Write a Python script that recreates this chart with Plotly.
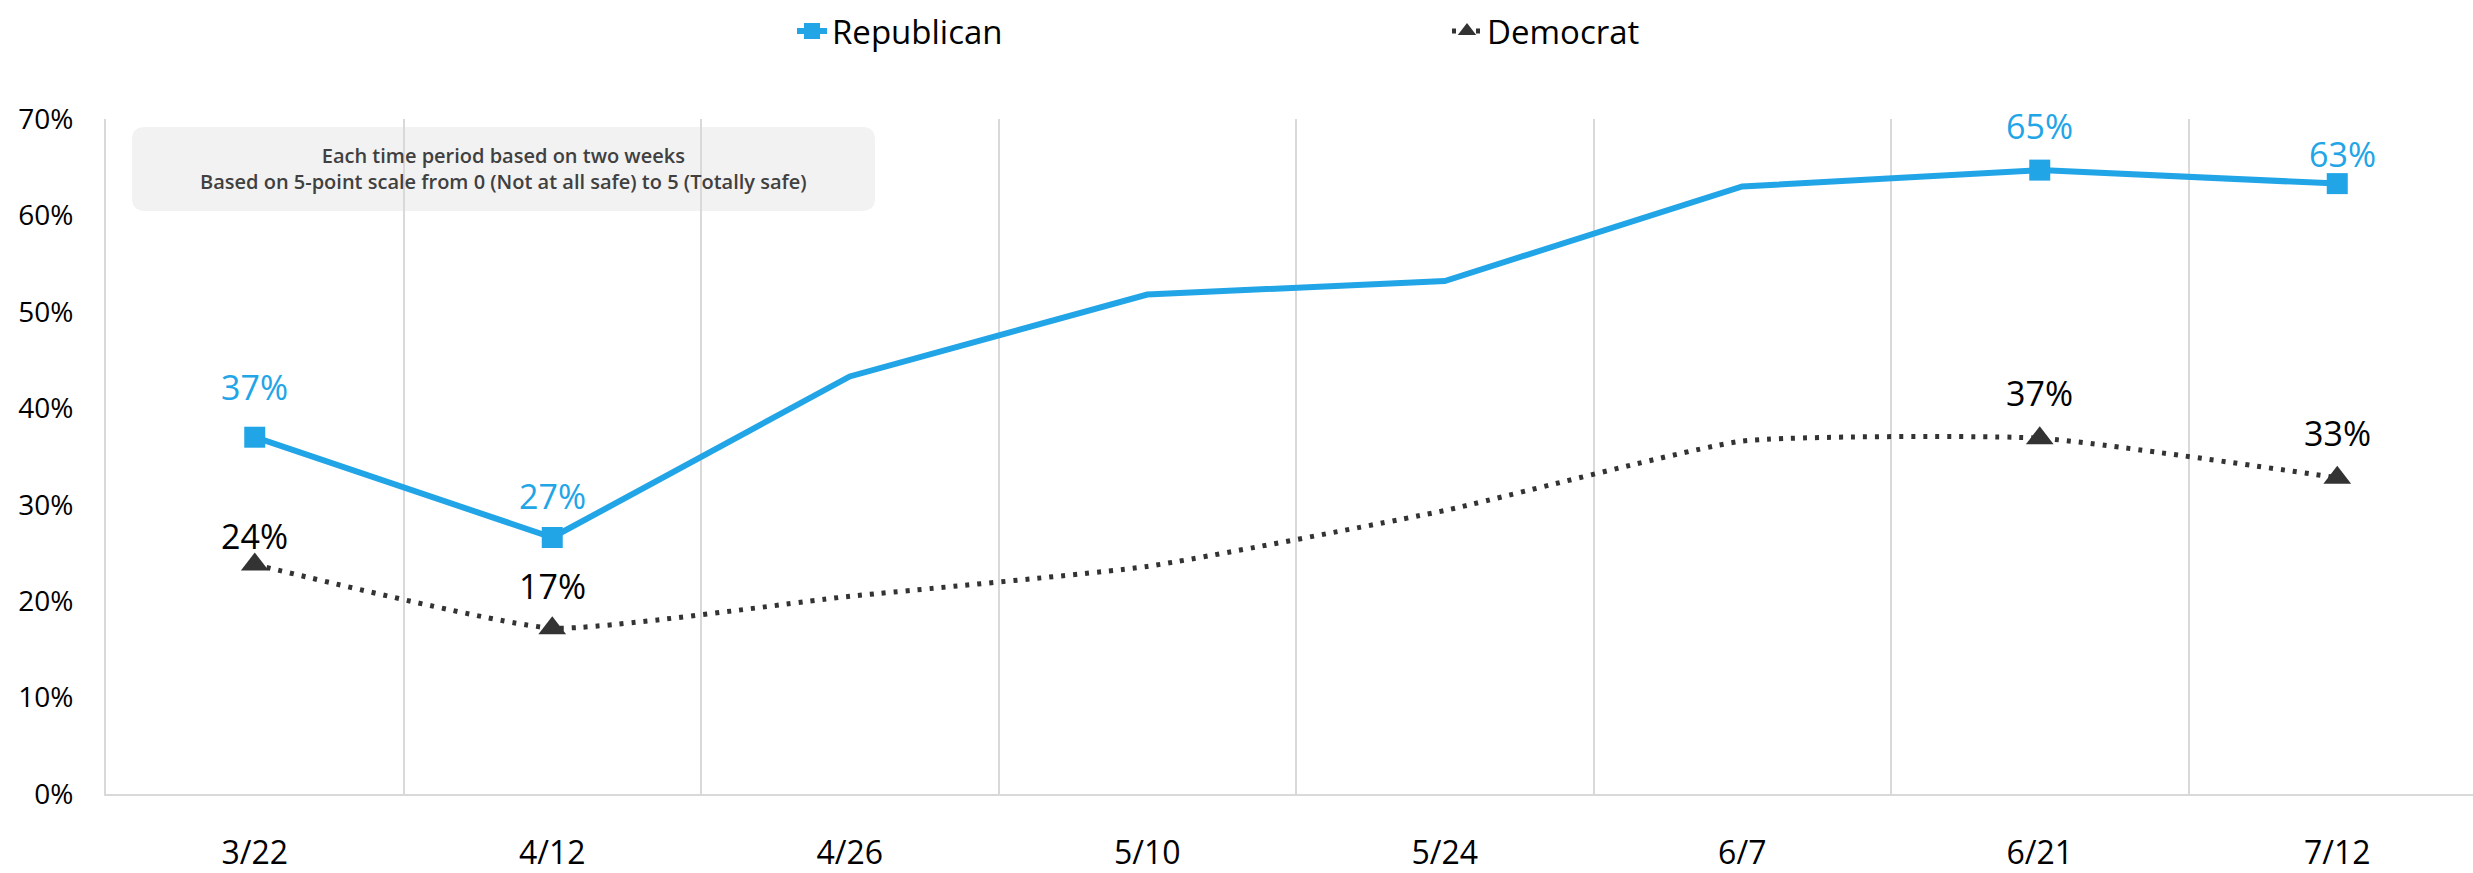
import plotly.graph_objects as go

# ---- data ----
periods = ["3/22", "4/12", "4/26", "5/10", "5/24", "6/7", "6/21", "7/12"]
republican = [37.0, 26.6, 43.3, 51.8, 53.2, 63.0, 64.7, 63.3]
democrat = [23.8, 17.2, 20.5, 23.6, 29.4, 36.6, 36.9, 32.8]
labelled = [0, 1, 6, 7]
note_lines = ["Each time period based on two weeks",
              "Based on 5-point scale from 0 (Not at all safe) to 5 (Totally safe)"]

# ---- style ----
W, H = 2473, 873
ML, MR, MT, MB = 106, 0, 119, 71
BLUE = "#21A5E7"
DARK = "#333333"
CLEAR = "rgba(0,0,0,0)"
FONT = "Open Sans"
rep_shift = [50, 42, 44, 30]
dem_shift = [29, 42, 45, 45]

plot_w = W - ML - MR
plot_h = H - MT - MB


def px_x(p):
    return (p - ML) / plot_w


def px_y(p):
    return (H - MB - p) / plot_h


rep_colors = [BLUE if i in labelled else CLEAR for i in range(len(periods))]
dem_colors = [DARK if i in labelled else CLEAR for i in range(len(periods))]

fig = go.Figure()
fig.add_trace(go.Scatter(
    x=periods, y=[v / 100 for v in republican], name="Republican",
    mode="lines+markers",
    line=dict(color=BLUE, width=6),
    marker=dict(symbol="square", size=21, color=rep_colors, opacity=1,
                line=dict(width=0)),
))
fig.add_trace(go.Scatter(
    x=periods, y=[v / 100 for v in democrat], name="Democrat",
    mode="lines+markers",
    line=dict(color=DARK, width=5, dash="4px,8px", shape="spline", smoothing=0.45),
    marker=dict(symbol="triangle-up", size=24, color=dem_colors, opacity=1,
                line=dict(width=0)),
))

annotations = []
for k, i in enumerate(labelled):
    annotations.append(dict(
        x=periods[i], y=republican[i] / 100, xref="x", yref="y",
        text=f"{round(republican[i])}%", showarrow=False,
        yshift=rep_shift[k], xshift=5 if k == 3 else 0,
        font=dict(family=FONT, size=34, color=BLUE)))
    annotations.append(dict(
        x=periods[i], y=democrat[i] / 100, xref="x", yref="y",
        text=f"{round(democrat[i])}%", showarrow=False,
        yshift=dem_shift[k],
        font=dict(family=FONT, size=34, color="#000000")))

# note box
bx0, bx1, by0, by1, r = 132, 875, 127, 212, 13
x0, x1 = px_x(bx0), px_x(bx1)
y0, y1 = px_y(by1), px_y(by0)
rx, ry = r / plot_w, r / plot_h
path = (f"M {x0+rx},{y0} L {x1-rx},{y0} Q {x1},{y0} {x1},{y0+ry} "
        f"L {x1},{y1-ry} Q {x1},{y1} {x1-rx},{y1} "
        f"L {x0+rx},{y1} Q {x0},{y1} {x0},{y1-ry} "
        f"L {x0},{y0+ry} Q {x0},{y0} {x0+rx},{y0} Z")
fig.add_shape(type="path", path=path, xref="paper", yref="paper",
              fillcolor="#F2F2F2", line=dict(width=0), layer="between")
annotations.append(dict(
    x=px_x((bx0 + bx1) / 2), y=px_y((by0 + by1) / 2), xref="paper", yref="paper",
    xanchor="center", yanchor="middle",
    text="<br>".join(note_lines), showarrow=False, align="center",
    font=dict(family=FONT, size=20, color="#404040", weight=600)))

fig.update_layout(
    width=W, height=H,
    margin=dict(l=ML, r=MR, t=MT, b=MB, pad=0),
    paper_bgcolor="white", plot_bgcolor="white",
    font=dict(family=FONT, color="#000000"),
    showlegend=True,
    legend=dict(orientation="h", x=px_x(792), xanchor="left",
                y=px_y(30), yanchor="middle",
                font=dict(family=FONT, size=33, color="#000000"),
                entrywidth=610, bgcolor="rgba(0,0,0,0)"),
    annotations=annotations,
    xaxis=dict(type="category", categoryorder="array", categoryarray=periods,
               range=[-0.5, -0.5 + plot_w / 297.5],
               tickson="boundaries", showgrid=True, gridcolor="#D9D9D9", gridwidth=1.5,
               showline=True, linecolor="#D9D9D9", linewidth=2,
               ticks="", ticklabelstandoff=30,
               tickfont=dict(family=FONT, size=32, color="#000000"),
               zeroline=False, fixedrange=True),
    yaxis=dict(range=[0, 0.70], dtick=0.1, tickformat=".0%",
               showgrid=False, showline=True, linecolor="#D9D9D9", linewidth=2,
               ticks="", ticklabelstandoff=25,
               tickfont=dict(family=FONT, size=28, color="#000000"),
               zeroline=False, fixedrange=True),
)

fig.write_html("out.html")
